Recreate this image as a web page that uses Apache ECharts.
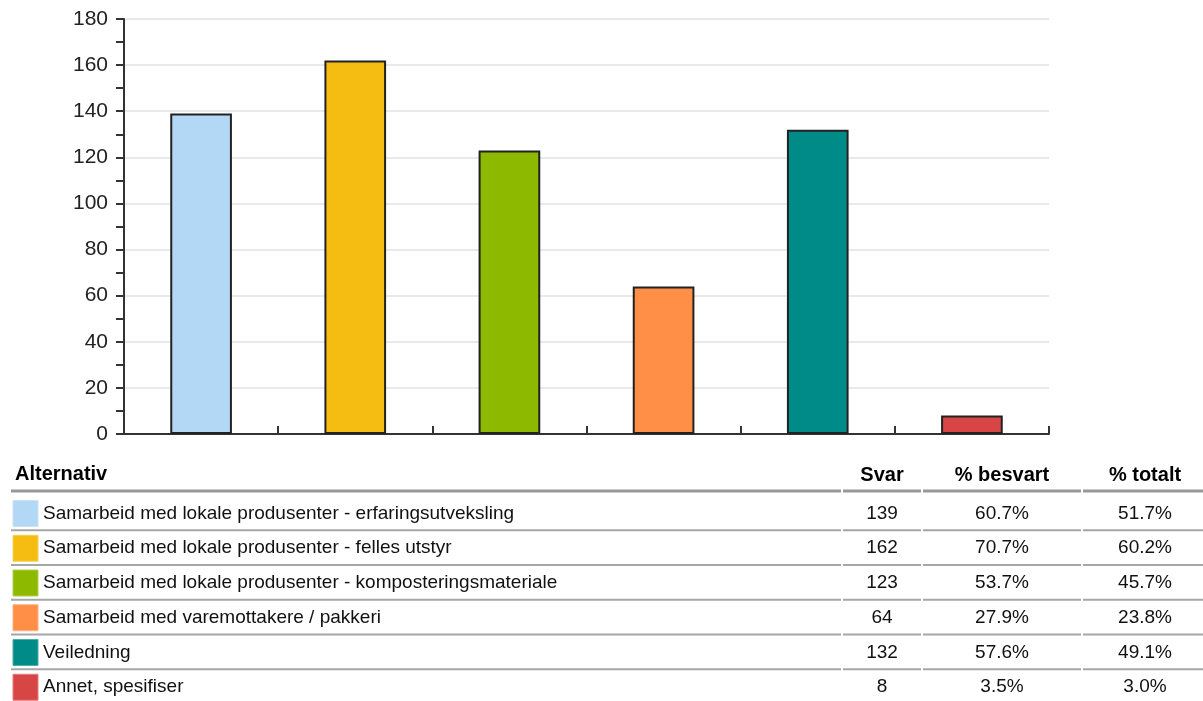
<!DOCTYPE html>
<html>
<head>
<meta charset="utf-8">
<script src="https://cdn.jsdelivr.net/npm/echarts@6/dist/echarts.min.js"></script>
<style>
html,body{margin:0;padding:0;background:#fff;}
#c{width:1203px;height:701px;}
</style>
</head>
<body>
<div id="c"></div>
<script>
const categories = [
  'Samarbeid med lokale produsenter - erfaringsutveksling',
  'Samarbeid med lokale produsenter - felles utstyr',
  'Samarbeid med lokale produsenter - komposteringsmateriale',
  'Samarbeid med varemottakere / pakkeri',
  'Veiledning',
  'Annet, spesifiser'
];
const svar = [139, 162, 123, 64, 132, 8];
const besvart = ['60.7%', '70.7%', '53.7%', '27.9%', '57.6%', '3.5%'];
const totalt = ['51.7%', '60.2%', '45.7%', '23.8%', '49.1%', '3.0%'];
const palette = ['#b2d8f6', '#f5bc12', '#8dba00', '#ff8f47', '#008b88', '#d84545'];
const headers = ['Alternativ', 'Svar', '% besvart', '% totalt'];

const FONT = '"Liberation Sans", Arial, sans-serif';
const chart = echarts.init(document.getElementById('c'), null, {renderer: 'canvas'});

// table layout (computed, not data)
const colCenters = [null, 882, 1002, 1145];
const segs = [[11, 841], [843, 921], [923, 1081], [1083, 1203]];
const headerY = 475;
const headerLineY = 491;
const row0 = 513.5;
const rowH = 34.75;
const rowFont = '19px ' + FONT;

const g = [];
g.push({type: 'text', left: 15, top: headerY - 11, style: {text: headers[0], font: 'bold 20px ' + FONT, fill: '#000'}});
for (let c = 1; c < 4; c++) {
  g.push({type: 'text', x: colCenters[c], y: headerY, style: {text: headers[c], font: 'bold 20px ' + FONT, fill: '#000', align: 'center', verticalAlign: 'middle'}});
}
segs.forEach(s => g.push({type: 'line', shape: {x1: s[0], y1: headerLineY, x2: s[1], y2: headerLineY}, style: {stroke: '#999', lineWidth: 3}}));
for (let i = 0; i < categories.length; i++) {
  const cy = row0 + i * rowH;
  g.push({type: 'rect', shape: {x: 13, y: cy - 13, width: 25, height: 26}, style: {fill: palette[i], stroke: echarts.color.lift(palette[i], 0.3), lineWidth: 1}});
  g.push({type: 'text', x: 43, y: cy, style: {text: categories[i], font: rowFont, fill: '#111', verticalAlign: 'middle'}});
  g.push({type: 'text', x: colCenters[1], y: cy, style: {text: String(svar[i]), font: rowFont, fill: '#111', align: 'center', verticalAlign: 'middle'}});
  g.push({type: 'text', x: colCenters[2], y: cy, style: {text: besvart[i], font: rowFont, fill: '#111', align: 'center', verticalAlign: 'middle'}});
  g.push({type: 'text', x: colCenters[3], y: cy, style: {text: totalt[i], font: rowFont, fill: '#111', align: 'center', verticalAlign: 'middle'}});
  if (i < categories.length - 1) {
    const ly = cy + 16.8;
    segs.forEach(s => g.push({type: 'line', shape: {x1: s[0], y1: ly, x2: s[1], y2: ly}, style: {stroke: '#a6a6a6', lineWidth: 2}}));
  }
}

chart.setOption({
  animation: false,
  backgroundColor: '#fff',
  textStyle: {fontFamily: FONT},
  grid: {left: 124, top: 19, right: 154, bottom: 267, containLabel: false},
  xAxis: {
    type: 'category',
    data: categories,
    axisLabel: {show: false, interval: 0},
    axisTick: {show: true, interval: 0, inside: true, length: 8, alignWithLabel: false, lineStyle: {color: '#333', width: 2}},
    axisLine: {lineStyle: {color: '#333', width: 2}},
    splitLine: {show: false}
  },
  yAxis: {
    type: 'value',
    min: 0, max: 180, interval: 20,
    axisLine: {show: true, lineStyle: {color: '#333', width: 2}},
    axisTick: {show: true, length: 8, lineStyle: {color: '#333', width: 2}},
    minorTick: {show: true, splitNumber: 2, length: 8, lineStyle: {color: '#333', width: 2}},
    splitLine: {show: true, lineStyle: {color: '#e2e2e2', width: 1.5}},
    axisLabel: {fontSize: 21, color: '#222', margin: 16, fontFamily: FONT}
  },
  series: [{
    type: 'bar',
    barWidth: '40%',
    data: svar.map((v, i) => ({value: v, itemStyle: {color: palette[i]}})),
    itemStyle: {borderColor: '#222', borderWidth: 2}
  }],
  graphic: g
});
</script>
</body>
</html>
